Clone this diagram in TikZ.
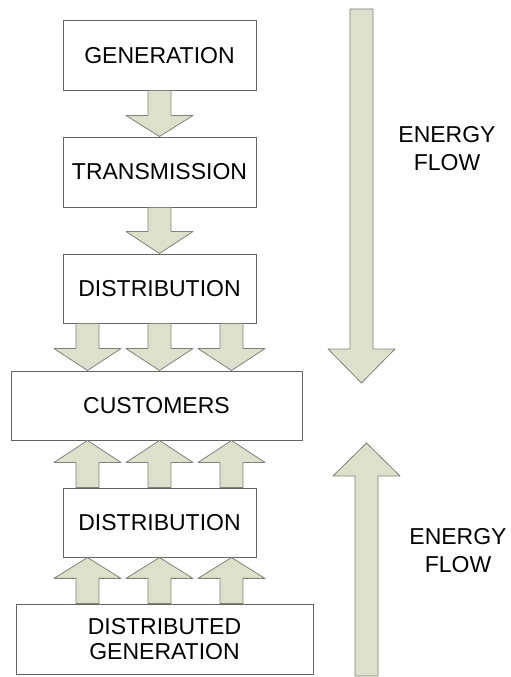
\documentclass[tikz,border=0pt]{standalone}
\usepackage{fontspec}
\setmainfont{Liberation Sans}
\usetikzlibrary{calc}
\tikzstyle{diagram} = [x = 1pt, y = -1pt]
\definecolor{arrowFill}{RGB}{221,225,204}
\definecolor{arrowLine}{RGB}{128,130,120}
\definecolor{boxLine}{RGB}{100,100,100}
\tikzstyle{blockStyle} = [draw=boxLine, fill=white, line width=1pt, inner sep=0pt, minimum width=193pt, minimum height=69pt, font=\fontsize{23}{25}\selectfont, align=center]
\tikzstyle{fatArrow} = [draw=arrowLine, fill=arrowFill, line width=.8pt, line join=round]
\tikzstyle{flowText} = [font=\fontsize{23}{28}\selectfont, align=center]
% #1 column node, #2 column shift, #3 tail, #4 tip, #5 head length
\newcommand{\flowArrow}[5]{\filldraw [fatArrow] let \p1 = ($(#1)+(#2,0)$), \p2 = (#3), \p3 = (#4), \p4 = ($(#4)!#5!(#3)$) in
  (\x1-11.5pt,\y2) -- (\x1-11.5pt,\y4) -- (\x1-33.5pt,\y4) -- (\x1,\y3) -- (\x1+33.5pt,\y4) -- (\x1+11.5pt,\y4) -- (\x1+11.5pt,\y2) -- cycle;}
\begin{document}
\begin{tikzpicture}[diagram]
  \useasboundingbox (0,0) rectangle (511,677);

  \node [blockStyle] (generation) at (159.5,55.5) {GENERATION};
  \node [blockStyle, minimum height=70pt] (transmission) at (159.5,172) {TRANSMISSION};
  \node [blockStyle] (distribution) at (159.5,288.5) {DISTRIBUTION};
  \node [blockStyle, minimum width=291pt] (customers) at (156.5,405.5) {CUSTOMERS};
  \node [blockStyle] (localDistribution) at (159.5,522.5) {DISTRIBUTION};
  \node [blockStyle, minimum width=297pt, minimum height=70pt] (distGeneration) at (164.5,639) {DISTRIBUTED\\GENERATION};

  \flowArrow{generation.south}{0}{generation.south}{transmission.north}{21pt}
  \flowArrow{transmission.south}{0}{transmission.south}{distribution.north}{22pt}
  \foreach \shift in {-72,0,72} {
    \flowArrow{distribution.south}{\shift}{distribution.south}{customers.north}{22pt}
    \flowArrow{localDistribution.north}{\shift}{localDistribution.north}{customers.south}{22pt}
    \flowArrow{localDistribution.south}{\shift}{distGeneration.north}{localDistribution.south}{21pt}
  }

  % energy flow arrows on the right
  \coordinate (downFlowStart) at (361.5,9);
  \coordinate (downFlowEnd) at (361.5,383);
  \flowArrow{downFlowStart}{0}{downFlowStart}{downFlowEnd}{34pt}
  \coordinate (upFlowStart) at (366.5,676);
  \coordinate (upFlowEnd) at (366.5,443);
  \flowArrow{upFlowStart}{0}{upFlowStart}{upFlowEnd}{33pt}

  \node [flowText] (downFlowLabel) at (447,149) {ENERGY\\FLOW};
  \node [flowText] (upFlowLabel) at (458,551) {ENERGY\\FLOW};
\end{tikzpicture}
\end{document}
